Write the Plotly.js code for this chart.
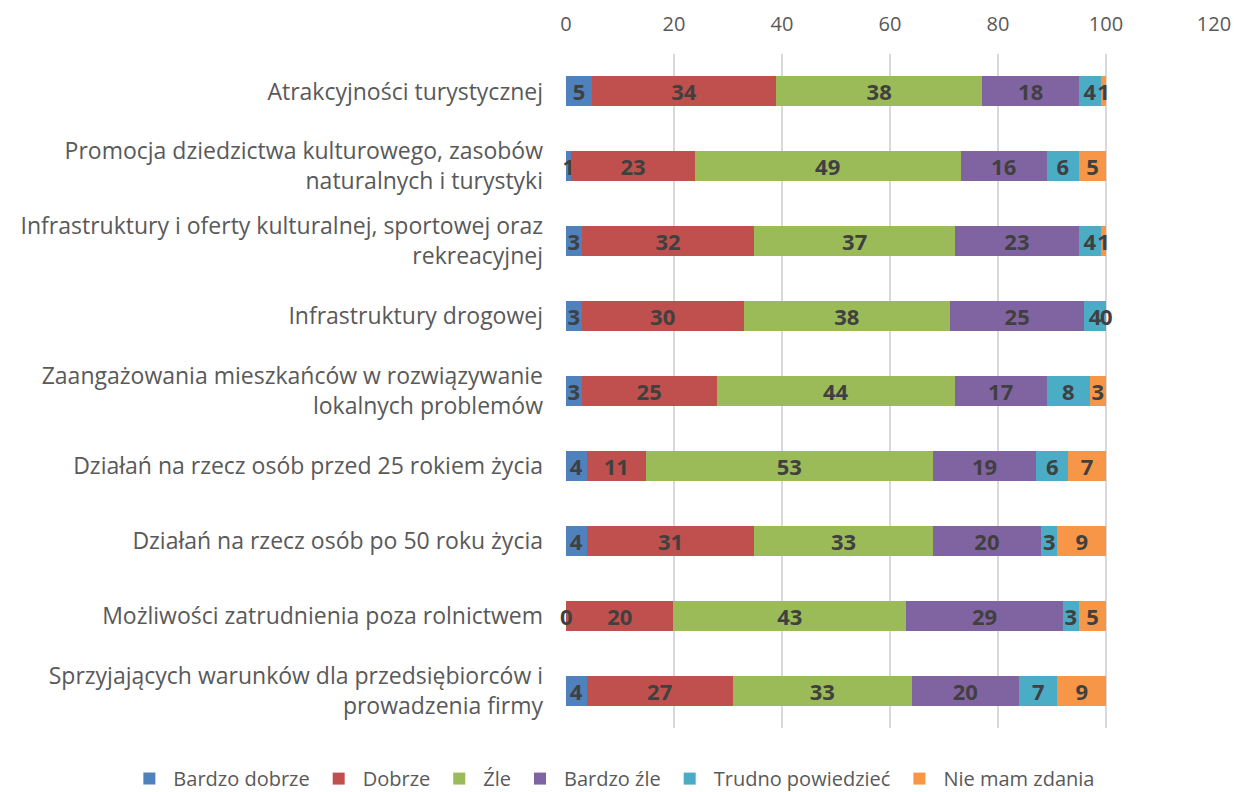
<!DOCTYPE html>
<html>
<head>
<meta charset="utf-8">
<script src="https://cdn.plot.ly/plotly-3.0.1.min.js"></script>
<style>html,body{margin:0;padding:0;background:#fff;}#chart{width:1234px;height:792px;}</style>
</head>
<body>
<div id="chart"></div>
<script>
const categories = [
  "Atrakcyjności turystycznej",
  "Promocja dziedzictwa kulturowego, zasobów<br>naturalnych i turystyki",
  "Infrastruktury i oferty kulturalnej, sportowej oraz<br>rekreacyjnej",
  "Infrastruktury drogowej",
  "Zaangażowania mieszkańców w rozwiązywanie<br>lokalnych problemów",
  "Działań na rzecz osób przed 25 rokiem życia",
  "Działań na rzecz osób po 50 roku życia",
  "Możliwości zatrudnienia poza rolnictwem",
  "Sprzyjających warunków dla przedsiębiorców i<br>prowadzenia firmy"
];
const seriesNames = ["Bardzo dobrze", "Dobrze", "Źle", "Bardzo źle", "Trudno powiedzieć", "Nie mam zdania"];
const bardzoDobrze = [4.8, 1.0, 2.9, 2.9, 2.9, 3.8, 3.8, 0, 3.8];
const dobrze       = [34.1, 22.8, 32.0, 30.0, 25.0, 11.0, 31.1, 19.9, 27.1];
const zle          = [38.2, 49.3, 37.1, 38.2, 44.1, 53.1, 33.0, 43.1, 33.1];
const bardzoZle    = [17.9, 15.9, 23.0, 24.9, 17.0, 19.2, 20.1, 29.0, 19.9];
const trudno       = [4.1, 6.0, 4.1, 4.0, 8.0, 5.9, 3.0, 3.0, 7.1];
const nieMam       = [0.9, 5.0, 0.9, 0, 3.0, 7.0, 9.0, 5.0, 9.0];
const xTicks = [0, 20, 40, 60, 80, 100, 120];

const colors = ["#4f81bd", "#c0504d", "#9bbb59", "#8064a2", "#4bacc6", "#f79646"];
const values = [bardzoDobrze, dobrze, zle, bardzoZle, trudno, nieMam];
const FONT = "Open Sans, sans-serif";
const labelFont = { family: FONT, size: 22, color: "#404040", weight: "bold" };

const traces = values.map((v, i) => ({
  type: "bar",
  orientation: "h",
  name: seriesNames[i],
  x: v,
  y: categories,
  marker: { color: colors[i], line: { width: 0 } },
  text: v.map(n => String(Math.round(n))),
  texttemplate: "%{text}",
  textposition: "inside",
  insidetextanchor: "middle",
  textangle: 0,
  constraintext: "none",
  cliponaxis: false,
  textfont: labelFont,
  hoverinfo: "x+name"
}));

// zero-width segments still carry a "0" label in the original chart
const annotations = [];
categories.forEach((c, j) => {
  let cum = 0;
  values.forEach(v => {
    if (v[j] === 0) {
      annotations.push({
        x: cum, y: c, xref: "x", yref: "y", text: "0", showarrow: false,
        font: labelFont, xanchor: "center", yanchor: "middle"
      });
    }
    cum += v[j];
  });
});

const layout = {
  width: 1234,
  height: 792,
  paper_bgcolor: "#ffffff",
  plot_bgcolor: "#ffffff",
  barmode: "stack",
  bargap: 0.6,
  margin: { l: 566, r: 20, t: 54, b: 64, autoexpand: false },
  font: { family: FONT, color: "#595959" },
  annotations: annotations,
  xaxis: {
    side: "top",
    range: [0, 120],
    tickvals: xTicks,
    ticktext: xTicks.map(String),
    showgrid: true,
    gridcolor: "#d9d9d9",
    gridwidth: 1.5,
    zeroline: false,
    showline: false,
    ticks: "",
    automargin: false,
    ticklabelstandoff: 18,
    tickfont: { family: FONT, size: 20, color: "#595959" },
    fixedrange: true
  },
  yaxis: {
    autorange: "reversed",
    type: "category",
    showgrid: false,
    zeroline: false,
    showline: false,
    ticks: "",
    automargin: false,
    ticklabelstandoff: 22,
    tickfont: { family: FONT, size: 23, color: "#595959" },
    fixedrange: true
  },
  legend: {
    orientation: "h",
    traceorder: "normal",
    xref: "paper",
    yref: "paper",
    x: -0.68,
    xanchor: "left",
    y: -0.104,
    yanchor: "bottom",
    font: { family: FONT, size: 20, color: "#595959" },
    itemwidth: 38
  },
  showlegend: true
};

Plotly.newPlot("chart", traces, layout, { displayModeBar: false, staticPlot: true });
</script>
</body>
</html>
